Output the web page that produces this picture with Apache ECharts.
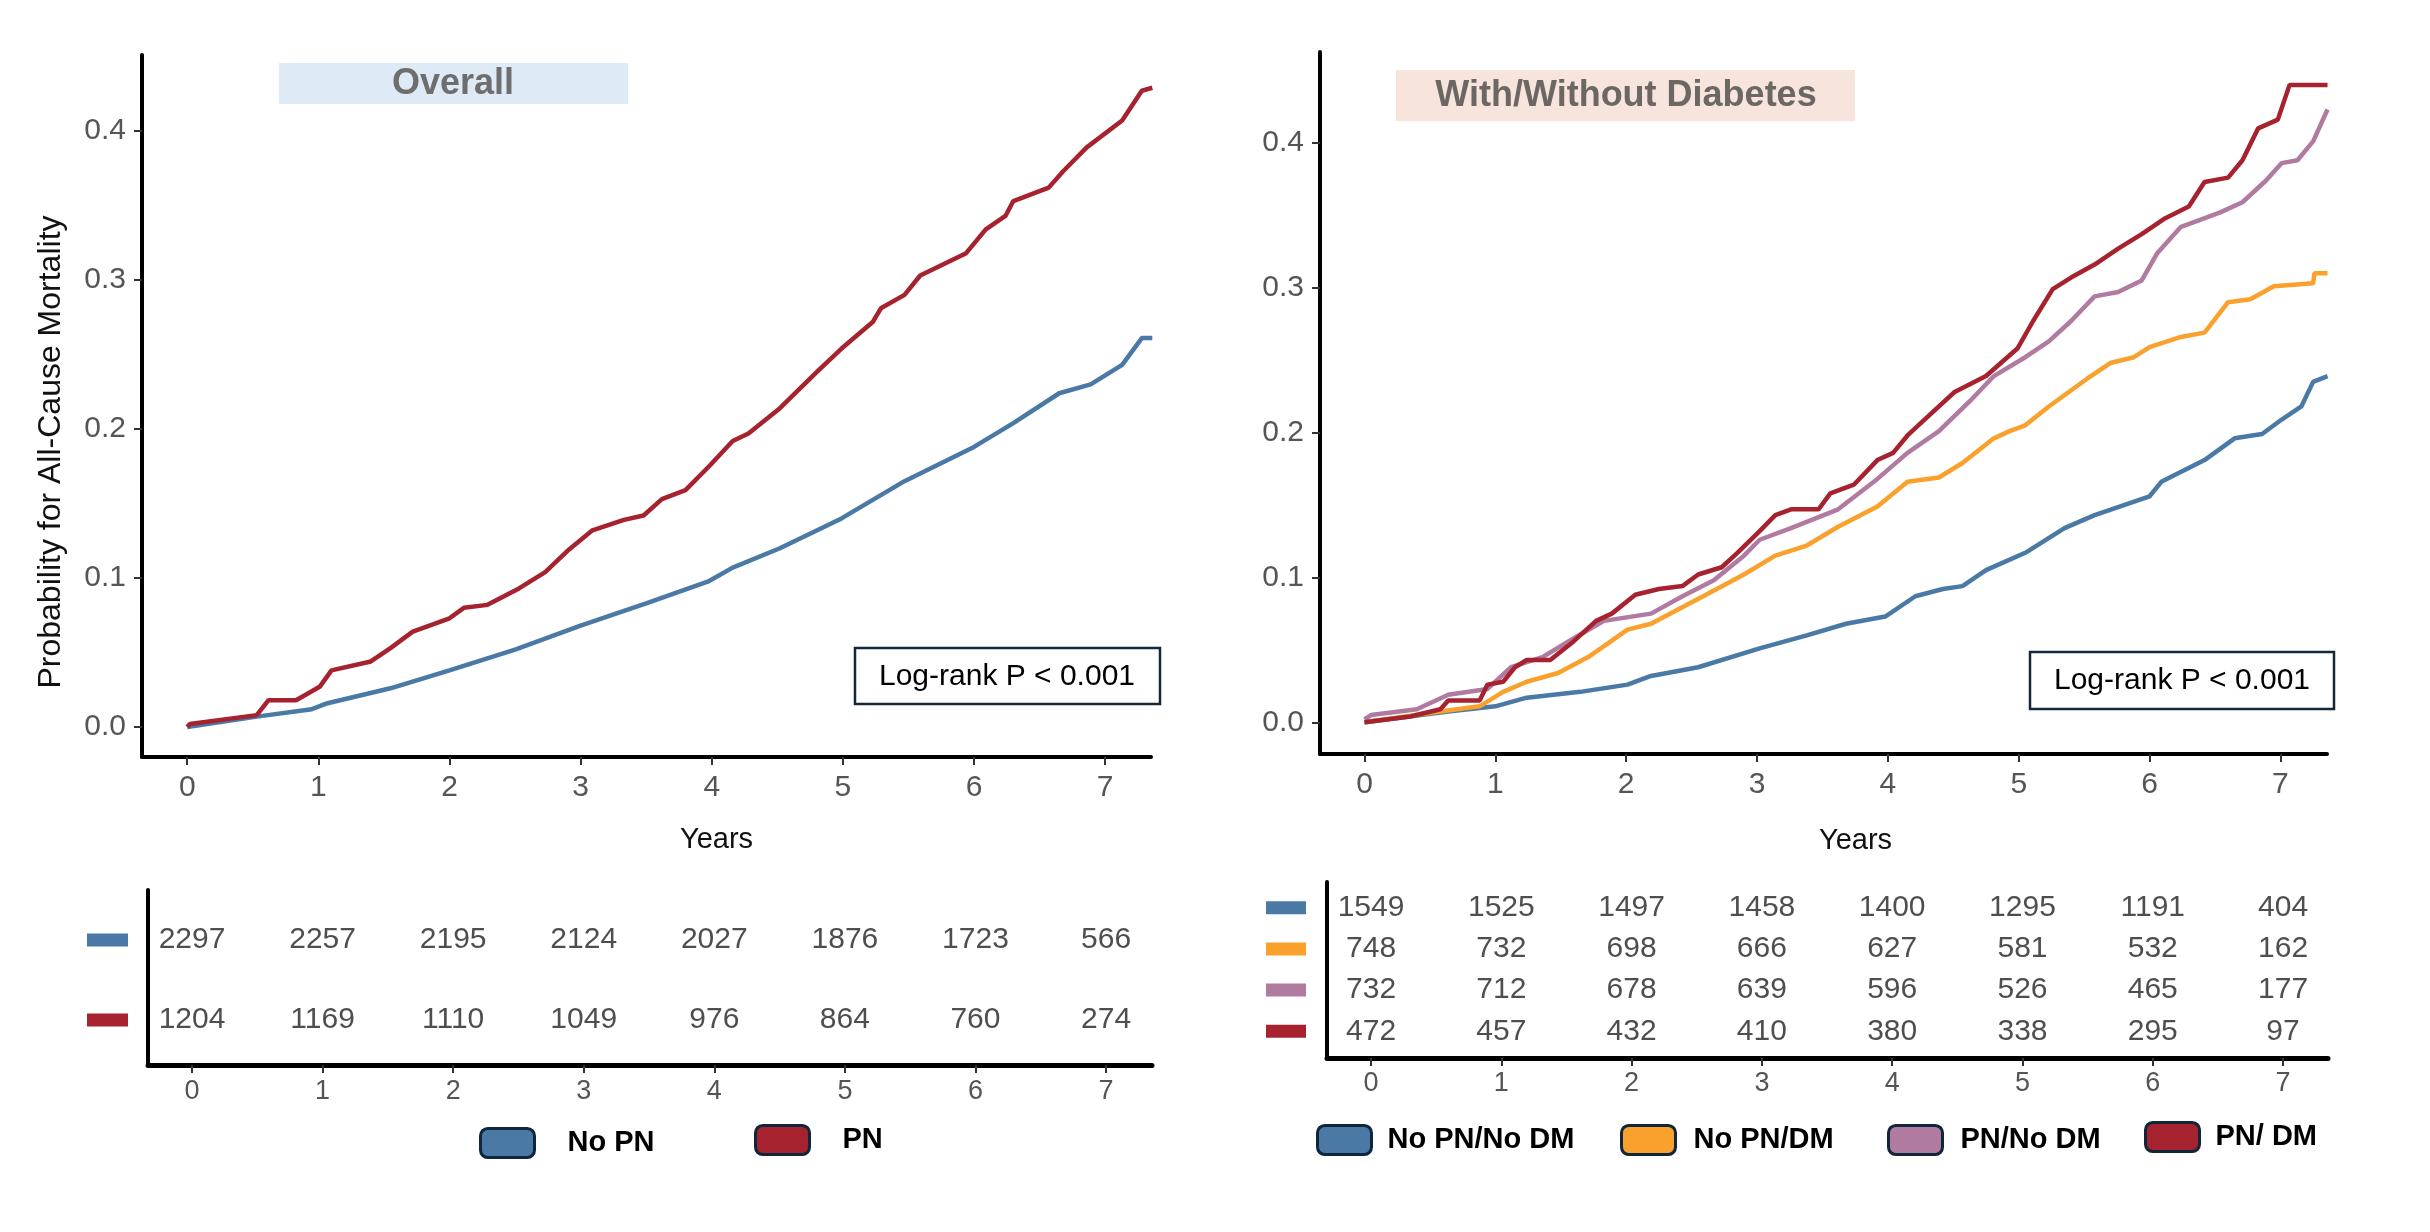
<!DOCTYPE html>
<html><head><meta charset="utf-8">
<script src="https://cdn.jsdelivr.net/npm/echarts@6/dist/echarts.min.js"></script>
<style>html,body{margin:0;padding:0;background:#fff}#c{width:2430px;height:1232px}</style>
</head><body><div id="c"></div>
<script>
// ---------- data ----------
const years = [0, 1, 2, 3, 4, 5, 6, 7];
const yTicks = [0, 0.1, 0.2, 0.3, 0.4];
const leftNames = ['No PN', 'PN'];
const rightNames = ['No PN/No DM', 'No PN/DM', 'PN/No DM', 'PN/ DM'];

// Overall panel: [years, cumulative probability]
const noPN = [[0,0],[0.53,0.007],[0.95,0.012],[1.07,0.016],[1.55,0.026],[2.0,0.038],[2.5,0.052],[3.0,0.068],[3.5,0.083],[3.98,0.098],[4.16,0.107],[4.52,0.120],[4.99,0.140],[5.47,0.165],[6.0,0.188],[6.3,0.204],[6.65,0.224],[6.89,0.230],[7.13,0.243],[7.28,0.261],[7.36,0.261]];
const PN = [[0,0],[0.02,0.002],[0.53,0.008],[0.62,0.018],[0.83,0.018],[1.01,0.027],[1.1,0.038],[1.4,0.044],[1.55,0.053],[1.72,0.064],[2.0,0.073],[2.11,0.080],[2.29,0.082],[2.53,0.093],[2.73,0.104],[2.91,0.119],[3.09,0.132],[3.33,0.139],[3.48,0.142],[3.62,0.153],[3.80,0.159],[3.98,0.175],[4.16,0.192],[4.28,0.197],[4.52,0.214],[4.81,0.239],[4.99,0.254],[5.23,0.272],[5.29,0.281],[5.47,0.290],[5.59,0.303],[5.94,0.318],[6.09,0.334],[6.24,0.343],[6.30,0.353],[6.57,0.362],[6.68,0.373],[6.86,0.389],[7.13,0.407],[7.28,0.427],[7.36,0.429]];

// Diabetes panel
const noPNnoDM = [[0,0],[0.64,0.0075],[1.0,0.011],[1.24,0.017],[1.65,0.021],[2.01,0.026],[2.19,0.032],[2.55,0.038],[3.02,0.051],[3.38,0.060],[3.68,0.068],[3.98,0.073],[4.21,0.087],[4.42,0.092],[4.57,0.094],[4.75,0.105],[5.05,0.117],[5.35,0.134],[5.58,0.143],[6.0,0.156],[6.09,0.166],[6.42,0.181],[6.65,0.196],[6.86,0.199],[7.01,0.209],[7.16,0.218],[7.25,0.235],[7.36,0.239]];
const noPNDM = [[0,0],[0.58,0.0075],[0.88,0.011],[1.06,0.021],[1.24,0.028],[1.48,0.034],[1.71,0.045],[2.01,0.064],[2.19,0.068],[2.61,0.088],[2.90,0.102],[3.14,0.115],[3.38,0.122],[3.62,0.135],[3.92,0.149],[4.15,0.166],[4.39,0.169],[4.57,0.179],[4.81,0.196],[4.93,0.201],[5.05,0.205],[5.23,0.218],[5.52,0.237],[5.70,0.248],[5.88,0.252],[6.0,0.259],[6.24,0.266],[6.42,0.269],[6.60,0.290],[6.77,0.292],[6.95,0.301],[7.25,0.303],[7.26,0.310],[7.36,0.310]];
const PNnoDM = [[0,0.002],[0.05,0.005],[0.40,0.009],[0.64,0.019],[0.94,0.023],[1.12,0.038],[1.36,0.045],[1.60,0.058],[1.83,0.070],[2.19,0.075],[2.43,0.087],[2.67,0.098],[2.90,0.115],[3.02,0.126],[3.26,0.134],[3.62,0.147],[3.92,0.168],[4.15,0.186],[4.39,0.201],[4.63,0.222],[4.81,0.239],[5.05,0.252],[5.23,0.263],[5.40,0.277],[5.58,0.294],[5.76,0.297],[5.94,0.305],[6.06,0.324],[6.24,0.342],[6.36,0.346],[6.54,0.352],[6.71,0.359],[6.89,0.374],[7.01,0.386],[7.13,0.388],[7.25,0.401],[7.36,0.423]];
const PNDM = [[0,0],[0.35,0.004],[0.58,0.009],[0.64,0.015],[0.88,0.015],[0.94,0.026],[1.06,0.028],[1.15,0.038],[1.24,0.043],[1.42,0.043],[1.60,0.056],[1.77,0.070],[1.89,0.075],[2.07,0.088],[2.25,0.092],[2.43,0.094],[2.55,0.102],[2.73,0.107],[2.85,0.117],[3.02,0.132],[3.14,0.143],[3.26,0.147],[3.47,0.147],[3.56,0.158],[3.74,0.164],[3.92,0.181],[4.04,0.186],[4.15,0.198],[4.33,0.213],[4.51,0.228],[4.75,0.239],[4.99,0.258],[5.11,0.277],[5.26,0.299],[5.40,0.307],[5.58,0.316],[5.76,0.327],[5.94,0.337],[6.12,0.348],[6.30,0.356],[6.42,0.373],[6.60,0.376],[6.71,0.388],[6.83,0.410],[6.98,0.416],[7.07,0.440],[7.36,0.440]];

// Numbers at risk
const riskNoPN = [2297, 2257, 2195, 2124, 2027, 1876, 1723, 566];
const riskPN = [1204, 1169, 1110, 1049, 976, 864, 760, 274];
const riskNoPNnoDM = [1549, 1525, 1497, 1458, 1400, 1295, 1191, 404];
const riskNoPNDM = [748, 732, 698, 666, 627, 581, 532, 162];
const riskPNnoDM = [732, 712, 678, 639, 596, 526, 465, 177];
const riskPNDM = [472, 457, 432, 410, 380, 338, 295, 97];

// ---------- styling ----------
const FF = "'Liberation Sans', Arial, sans-serif";
const BLUE = '#4a79a6', RED = '#a6222e', ORANGE = '#f9a12c', PURPLE = '#b07aa1';
const leftColors = [BLUE, RED];
const rightColors = [BLUE, ORANGE, PURPLE, RED];

const chart = echarts.init(document.getElementById('c'), null, {renderer: 'canvas'});

function plotX(gi, min, max, nameGap, shift) {
  return {
    gridIndex: gi, type: 'value', min: min, max: max,
    axisLine: {show: true, onZero: false, lineStyle: {color: '#000', width: 4}},
    axisTick: {show: true, customValues: years, length: 8, lineStyle: {color: '#333', width: 2}},
    axisLabel: {customValues: years, fontSize: 30, color: '#555', fontFamily: FF, margin: 16},
    splitLine: {show: false},
    name: 'Years', nameLocation: 'middle', nameGap: nameGap,
    nameTextStyle: {fontSize: 29, color: '#111', fontFamily: FF, padding: [0, 0, 0, shift]}
  };
}
function plotY(gi, min, max) {
  return {
    gridIndex: gi, type: 'value', min: min, max: max,
    axisLine: {show: true, onZero: false, lineStyle: {color: '#000', width: 4}},
    axisTick: {show: true, customValues: yTicks, length: 8, lineStyle: {color: '#333', width: 2}},
    axisLabel: {customValues: yTicks, formatter: v => v.toFixed(1), fontSize: 30, color: '#555', fontFamily: FF, margin: 16},
    splitLine: {show: false}
  };
}
function tableX(gi, min, max, margin) {
  return {
    gridIndex: gi, type: 'value', min: min, max: max,
    axisLine: {show: true, onZero: false, lineStyle: {color: '#000', width: 5}},
    axisTick: {show: true, customValues: years, length: 8, lineStyle: {color: '#333', width: 2}},
    axisLabel: {customValues: years, fontSize: 27, color: '#555', fontFamily: FF, margin: margin},
    splitLine: {show: false}
  };
}
function tableY(gi, min, max, colors, sqW, margin) {
  const rows = colors.map((c, i) => i);
  const rich = {};
  colors.forEach((c, i) => { rich['s' + i] = {backgroundColor: c, width: sqW, height: 13}; });
  return {
    gridIndex: gi, type: 'value', inverse: true, min: min, max: max,
    axisLine: {show: true, onZero: false, lineStyle: {color: '#000', width: 4}},
    axisTick: {show: false},
    axisLabel: {customValues: rows, formatter: v => '{s' + Math.round(v) + '| }', rich: rich, margin: margin},
    splitLine: {show: false}
  };
}
function curve(name, data, color, gi) {
  return {
    name: name, type: 'line', xAxisIndex: gi, yAxisIndex: gi, data: data,
    showSymbol: false, symbol: 'none', silent: true,
    lineStyle: {color: color, width: 4.5}, itemStyle: {color: color},
    emphasis: {disabled: true}
  };
}
function riskRow(arr, row, gi) {
  return {
    name: 'risk' + gi + '_' + row, type: 'scatter', xAxisIndex: gi, yAxisIndex: gi,
    data: years.map((x, i) => [x, row, arr[i]]),
    symbolSize: 1, itemStyle: {color: 'rgba(0,0,0,0)'}, silent: true,
    label: {show: true, position: 'inside', formatter: p => p.value[2], fontSize: 30, color: '#222', fontFamily: FF}
  };
}
function legendItem(name, left, top, pad) {
  return {
    data: [name], left: left, top: top, padding: 0, orient: 'horizontal',
    icon: 'roundRect', itemWidth: 54, itemHeight: 29, selectedMode: false,
    itemStyle: {borderColor: '#10263a', borderWidth: 3},
    textStyle: {fontSize: 29, fontWeight: 'bold', color: '#000', fontFamily: FF, padding: [0, 0, 0, pad]}
  };
}

const option = {
  backgroundColor: '#fff',
  animation: false,
  grid: [
    {left: 142, top: 55, width: 1009, height: 702},
    {left: 1320, top: 52, width: 1007, height: 702},
    {left: 148, top: 890, width: 1004, height: 175},
    {left: 1327, top: 882, width: 1001, height: 176}
  ],
  xAxis: [plotX(0, -0.345, 7.35, 68, 140), plotX(1, -0.34, 7.356, 72, 64), tableX(2, -0.337, 7.352, 13), tableX(3, -0.338, 7.345, 12)],
  yAxis: [plotY(0, -0.0201, 0.451), plotY(1, -0.0219, 0.4627), tableY(2, -0.625, 1.5625, leftColors, 41, 20), tableY(3, -0.623, 3.647, rightColors, 40, 21)],
  legend: [
    legendItem(leftNames[0], 479, 1127, 28),
    legendItem(leftNames[1], 754, 1124, 28),
    legendItem(rightNames[0], 1316, 1124, 11),
    legendItem(rightNames[1], 1620, 1124, 13),
    legendItem(rightNames[2], 1887, 1124, 13),
    legendItem(rightNames[3], 2144, 1121, 11)
  ],
  series: [
    curve(leftNames[0], noPN, BLUE, 0),
    curve(leftNames[1], PN, RED, 0),
    curve(rightNames[0], noPNnoDM, BLUE, 1),
    curve(rightNames[1], noPNDM, ORANGE, 1),
    curve(rightNames[2], PNnoDM, PURPLE, 1),
    curve(rightNames[3], PNDM, RED, 1),
    riskRow(riskNoPN, 0, 2), riskRow(riskPN, 1, 2),
    riskRow(riskNoPNnoDM, 0, 3), riskRow(riskNoPNDM, 1, 3), riskRow(riskPNnoDM, 2, 3), riskRow(riskPNDM, 3, 3)
  ],
  graphic: [
    {type: 'rect', shape: {x: 279, y: 63, width: 349, height: 41}, style: {fill: '#deeaf6'}, silent: true},
    {type: 'text', x: 453, y: 84, silent: true, style: {text: 'Overall', font: "bold 36px 'Liberation Sans', Arial, sans-serif", fill: '#6e6e6e', textAlign: 'center', textVerticalAlign: 'middle'}},
    {type: 'rect', shape: {x: 1396, y: 70, width: 459, height: 51}, style: {fill: '#f6e4dd'}, silent: true},
    {type: 'text', x: 1626, y: 96, silent: true, style: {text: 'With/Without Diabetes', font: "bold 36px 'Liberation Sans', Arial, sans-serif", fill: '#6d6763', textAlign: 'center', textVerticalAlign: 'middle'}},
    {type: 'rect', shape: {x: 855, y: 648, width: 305, height: 56}, style: {fill: '#fff', stroke: '#14283a', lineWidth: 2.5}, silent: true},
    {type: 'text', x: 1007, y: 677, silent: true, style: {text: 'Log-rank P < 0.001', font: "30px 'Liberation Sans', Arial, sans-serif", fill: '#000', textAlign: 'center', textVerticalAlign: 'middle'}},
    {type: 'rect', shape: {x: 2030, y: 652, width: 304, height: 57}, style: {fill: '#fff', stroke: '#14283a', lineWidth: 2.5}, silent: true},
    {type: 'text', x: 2182, y: 681, silent: true, style: {text: 'Log-rank P < 0.001', font: "30px 'Liberation Sans', Arial, sans-serif", fill: '#000', textAlign: 'center', textVerticalAlign: 'middle'}},
    {type: 'text', x: 51, y: 452, rotation: Math.PI / 2, silent: true, style: {text: 'Probability for All-Cause Mortality', font: "32px 'Liberation Sans', Arial, sans-serif", fill: '#111', textAlign: 'center', textVerticalAlign: 'middle'}}
  ]
};
chart.setOption(option);
</script></body></html>
